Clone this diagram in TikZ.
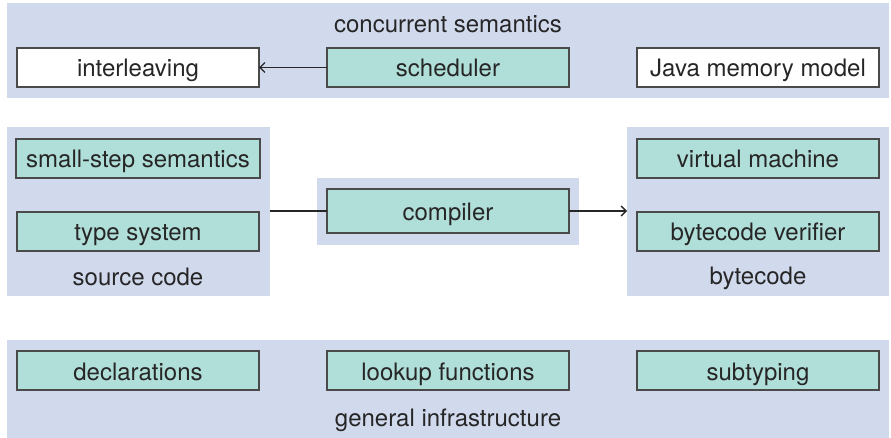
\documentclass[tikz,border=0pt]{standalone}
\usepackage{fontspec}
\setmainfont{TeX Gyre Heros}
\usetikzlibrary{arrows.meta}
\definecolor{panelc}{HTML}{D1D9ED}
\definecolor{greenc}{HTML}{B0DED8}
\definecolor{edgec}{HTML}{4A4A4A}
\definecolor{textc}{HTML}{262626}
\tikzset{
  panel/.style={rectangle, fill=panelc, draw=none, inner sep=0pt, outer sep=0pt},
  gbox/.style={rectangle, fill=greenc, draw=edgec, line width=1.4pt, inner sep=0pt, outer sep=0pt,
    minimum width=242pt, minimum height=39pt, text=textc, font=\fontsize{24}{28}\selectfont,
    text height=19pt, text depth=0pt},
  wbox/.style={gbox, fill=white},
  lbl/.style={inner sep=0pt, text=textc, font=\fontsize{24}{28}\selectfont, text height=19pt, text depth=0pt},
  conn/.style={draw=textc, line width=1.8pt},
  arr/.style={conn, -{Straight Barb[length=5pt,width=10pt,line width=1.4pt]}}
}
\begin{document}
\begin{tikzpicture}[x=1pt,y=-1pt]
\useasboundingbox (0,0) rectangle (891,438);
% panels
\node[panel, minimum width=882pt, minimum height=95pt] (ptop) at (448,50.5) {};
\node[panel, minimum width=263pt, minimum height=169pt] (pleft) at (138.5,211.5) {};
\node[panel, minimum width=262pt, minimum height=67pt] (pcomp) at (448,211.5) {};
\node[panel, minimum width=262pt, minimum height=169pt] (pright) at (758,211.5) {};
\node[panel, minimum width=882pt, minimum height=98pt] (pbot) at (448,389) {};
% labels
\node[lbl] (lconc) at (448,23.5) {concurrent semantics};
\node[lbl] (lsrc) at (138,275.5) {source code};
\node[lbl] (lbyte) at (758,274.5) {bytecode};
\node[lbl] (lgen) at (448,416.5) {general infrastructure};
% boxes
\node[wbox] (inter) at (138,67.5) {interleaving};
\node[gbox] (sched) at (448,67.5) {scheduler};
\node[wbox] (jmm) at (758,67.5) {Java memory model};
\node[gbox, minimum width=244pt] (small) at (138,158.5) {small-step semantics};
\node[gbox] (types) at (138,231.5) {type system};
\node[gbox, minimum height=44pt] (comp) at (448,211) {compiler};
\node[gbox] (vm) at (758,158.5) {virtual machine};
\node[gbox] (bv) at (758,231.5) {bytecode verifier};
\node[gbox] (decl) at (138,370.5) {declarations};
\node[gbox] (look) at (448,370.5) {lookup functions};
\node[gbox] (subt) at (758,370.5) {subtyping};
% connectors
\draw[arr] (sched.west) -- (inter.east);
\draw[conn] (pleft.east |- comp.west) -- (comp.west);
\draw[arr] (comp.east) -- (pright.west |- comp.east);
\end{tikzpicture}
\end{document}
